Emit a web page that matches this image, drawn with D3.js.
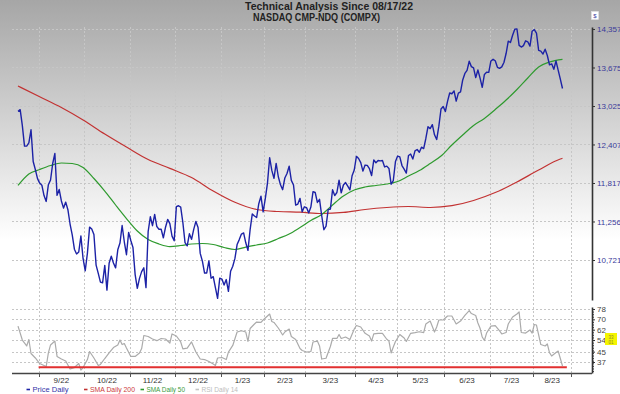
<!DOCTYPE html>
<html><head><meta charset="utf-8">
<script src="https://cdn.jsdelivr.net/npm/d3@7"></script>
<style>body{margin:0;background:#fff;} svg{display:block;font-family:Arial,"Liberation Sans",sans-serif;}</style>
</head><body><svg id="c" width="620" height="394"></svg>
<script>
// ---------------- DATA ----------------
const titleLines = ["Technical Analysis Since 08/17/22", "NASDAQ CMP-NDQ (COMPX)"];
const monthLabels = ["", "9/22", "10/22", "11/22", "12/22", "1/23", "2/23", "3/23", "4/23", "5/23", "6/23", "7/23", "8/23"];
const monthTradingDays = [11, 21, 21, 21, 21, 20, 19, 23, 19, 22, 21, 20, 23];
const priceTicks = [10721, 11256, 11817, 12407, 13025, 13675, 14357];
const rsiTicks = [37, 45, 54, 62, 70, 78];
const legendLabels = ["Price Daily", "SMA Daily 200", "SMA Daily 50", "RSI Daily 14"];

// daily close, one value per trading day from 08/17/22
const priceClose = [
 12938,12965,12705,12382,12381,12432,12639,12142,12018,11883,11816,
 11785,11631,11545,11792,11862,12112,12266,11634,11720,11552,11448,11535,11425,11220,11067,10868,10803,10830,11052,10738,10576,
 10815,11176,11149,11073,10652,10542,10426,10417,10649,10321,10676,10772,10681,10615,10860,10953,11199,10971,10793,11102,10988,
 10891,10525,10343,10475,10565,10616,10353,11114,11323,11196,11358,11184,11145,11146,11025,11174,11285,11226,11050,10984,11468,
 11482,11462,11240,10959,10914,11082,11005,11144,11257,11171,10811,10705,10546,10547,10709,10476,10498,10353,10213,10478,10466,
 10387,10459,10305,10569,10636,10743,10932,11001,11079,11095,10957,10852,11140,11364,11334,11313,11512,11622,11394,11585,
 11816,12201,12007,11887,12114,11911,11790,11718,11892,11960,12071,11856,11787,11492,11507,11590,11395,11467,11456,
 11379,11463,11689,11676,11530,11576,11338,11139,11189,11428,11434,11717,11631,11676,11860,11670,11787,11824,11769,11716,11926,12013,12222,
 12189,12126,11997,12088,12084,12032,11929,12166,12123,12158,12153,12157,12060,12072,12037,11799,11854,12142,12227,
 12213,12081,12025,11966,12235,12257,12180,12306,12329,12285,12365,12343,12501,12689,12658,12721,12560,12484,12698,12976,13017,12935,
 13101,13241,13229,13276,13105,13239,13259,13462,13573,13626,13783,13690,13667,13502,13631,13493,13336,13556,13592,13591,13788,
 13817,13792,13679,13661,13685,13761,13919,14139,14114,14245,14354,14358,14063,14033,14059,14145,14127,14050,14317,14346,
 14284,13973,13960,13909,13994,13884,13722,13738,13645,13788,13631,13475,13317
];

const sma200Day = [0,10,20,30,40,50,60,70,80,90,100,110,120,130,140,150,160,170,180,190,200,210,220,230,240,250,251];
const sma200 = [13359,13179,13001,12797,12572,12367,12173,12038,11899,11698,11532,11428,11399,11389,11370,11385,11428,11457,11471,11457,11483,11559,11676,11832,12013,12181,12192];

const sma50Day = [0,5,10,15,20,25,30,35,40,45,50,55,60,65,70,75,80,85,90,95,100,105,110,115,120,125,130,135,140,145,150,155,160,165,170,175,180,185,190,195,200,205,210,215,220,225,230,235,240,245,251];
const sma50 = [11780,11952,12021,12081,12120,12112,12051,11885,11698,11493,11298,11121,11002,10940,10905,10919,10940,10947,10933,10892,10864,10898,10926,10954,11016,11079,11171,11270,11356,11493,11624,11713,11757,11780,11802,11840,11922,12005,12112,12227,12398,12556,12708,12821,12968,13124,13300,13495,13684,13770,13817];

const rsiDay = [0,2,4,5,6,8,10,12,13,14,15,17,18,20,22,24,26,28,29,30,32,33,35,37,38,40,42,44,46,47,48,49,50,52,54,56,57,58,60,62,64,66,68,70,71,73,75,76,78,80,82,84,86,88,90,91,92,94,96,97,99,101,103,105,106,107,109,110,112,113,115,116,117,118,120,122,123,125,126,128,130,131,133,135,136,138,139,140,142,144,145,147,148,149,151,153,155,156,158,160,162,163,164,166,168,170,171,172,173,174,176,178,179,181,183,185,187,188,190,192,193,194,196,198,200,202,204,206,208,209,211,212,213,214,215,216,218,220,222,223,225,226,228,230,231,232,234,236,237,238,239,240,241,243,244,245,246,248,249,251];
const rsi14 = [64.8,54,49.4,54.4,43.6,40.1,35.8,34.3,33.5,44,50.2,53.2,41.3,39.3,37.8,31.6,32.7,35.8,30.8,32.7,38.9,45.1,40.1,34.3,35.1,39.7,44,48.2,50.2,54,50.5,51.3,47.8,41.3,41.3,44,47.4,57.5,56.7,54.8,53.5,55.2,54.8,51.7,58.7,57.1,52.5,47.1,47.8,52.5,44.7,39.3,38.9,37.4,35.5,34.3,40.1,40.5,38.9,44.7,49.8,60.2,61.2,60.2,52.9,62.9,66.4,67.9,67.6,69.5,72.6,74.1,68.3,67.6,63.3,57.9,60.2,62.5,56.7,54.4,47.4,45.9,44.7,45.1,52.5,53.2,49.4,39.3,39.9,49,55.2,55.2,58.3,55.2,56.3,54.4,62.5,65.2,64.1,59.2,57.1,53.2,58.7,59.2,59.2,54.6,53.2,44,48.6,52.9,58.3,55.6,52.9,59.2,59.7,60.4,59.7,66.4,68.7,60.2,64.1,69.5,69.5,72.6,72.6,66.4,68.7,73,76.8,74.5,73,67.2,63.1,56.3,53.6,59.4,64.8,65.2,61,58.7,59.8,66.4,71.8,74.1,75.7,59.8,59.4,61.8,59.4,66,65.6,57.9,50.5,49.4,51,44.3,41.6,44.3,45.5,33.9];

const rsiRefLevel = 33;
const rsiRefSpan = [9.5, 253];

// ---------------- LAYOUT / STYLE ----------------
const W = 620, H = 394;
const plotLeft = 12, plotRight = 592;
const priceTop = 27, priceBottom = 300, rsiTop = 307, rsiBottom = 373;
const timeEndPad = 4;   // trading days of empty space after the last bar
const colors = {price: "#1c22a6", sma200: "#c23232", sma50: "#2e9a2e", rsi: "#ababab", ref: "#e23030"};
const legendColors = [colors.price, colors.sma200, colors.sma50, "#c4c4c4"];
const legendTextColors = ["#3333a8", "#cc3b3b", "#3a9a3a", "#bdbdbd"];
const legendTextX = [32.5, 90, 146.5, 201.5];
const legendTextLen = [36, 45, 38.5, 36.5];

const svg = d3.select("#c");
const defs = svg.append("defs");
const grad = defs.append("linearGradient").attr("id", "bg").attr("x1", 0).attr("y1", 0).attr("x2", 0).attr("y2", 1);
grad.append("stop").attr("offset", "0%").attr("stop-color", "#a6a6a6");
grad.append("stop").attr("offset", "61%").attr("stop-color", "#ffffff");
grad.append("stop").attr("offset", "100%").attr("stop-color", "#ffffff");
svg.append("rect").attr("width", W).attr("height", H).attr("fill", "url(#bg)");

// scales
const lastIdx = priceClose.length - 1;
const x = d3.scaleLinear().domain([0, lastIdx]).range([18, 562.5]);
const yP0 = d3.scaleLog().domain([priceTicks[0], priceTicks[priceTicks.length - 1]]).range([260, 29]);
const yPrice = d3.scaleLog().domain([yP0.invert(priceBottom), yP0.invert(priceTop)]).range([priceBottom, priceTop]);
const yR0 = d3.scaleLinear().domain([rsiTicks[0], rsiTicks[rsiTicks.length - 1]]).range([362, 309]);
const yRsi = d3.scaleLinear().domain([yR0.invert(rsiBottom), yR0.invert(rsiTop)]).range([rsiBottom, rsiTop]);

// month boundaries (clamped to the end of the time area)
const starts = []; let acc = 0;
monthTradingDays.forEach(n => { starts.push(acc); acc += n; });
starts.push(acc);
const gridX = starts.slice(1).map(s => x(Math.min(s - 1.5, lastIdx + timeEndPad)));

// grid
const grid = svg.append("g").attr("stroke", "#c6c6c6").attr("stroke-width", 1).attr("stroke-dasharray", "2,2").attr("fill", "none");
priceTicks.forEach(t => grid.append("line").attr("x1", plotLeft).attr("x2", plotRight).attr("y1", Math.round(yPrice(t)) + 0.5).attr("y2", Math.round(yPrice(t)) + 0.5));
rsiTicks.forEach(t => grid.append("line").attr("x1", plotLeft).attr("x2", plotRight).attr("y1", Math.round(yRsi(t)) + 0.5).attr("y2", Math.round(yRsi(t)) + 0.5));
gridX.forEach(gx => grid.append("line").attr("x1", Math.round(gx) + 0.5).attr("x2", Math.round(gx) + 0.5).attr("y1", priceTop).attr("y2", rsiBottom));

// lines
const smaLine = (days) => d3.line().x((d, i) => x(days[i])).y(d => yPrice(d)).curve(d3.curveMonotoneX);
svg.append("path").datum(sma200).attr("d", smaLine(sma200Day)).attr("fill", "none").attr("stroke", colors.sma200).attr("stroke-width", 1.2);
svg.append("path").datum(sma50).attr("d", smaLine(sma50Day)).attr("fill", "none").attr("stroke", colors.sma50).attr("stroke-width", 1.2);
svg.append("path").datum(priceClose).attr("d", d3.line().x((d, i) => x(i)).y(d => yPrice(d)))
  .attr("fill", "none").attr("stroke", colors.price).attr("stroke-width", 1.4).attr("stroke-linejoin", "round");

svg.append("path").datum(rsi14).attr("d", d3.line().x((d, i) => x(rsiDay[i])).y(d => yRsi(d)))
  .attr("fill", "none").attr("stroke", colors.rsi).attr("stroke-width", 1.2).attr("stroke-linejoin", "round");
svg.append("line").attr("x1", x(rsiRefSpan[0])).attr("x2", x(rsiRefSpan[1]))
  .attr("y1", yRsi(rsiRefLevel)).attr("y2", yRsi(rsiRefLevel)).attr("stroke", colors.ref).attr("stroke-width", 2);

// axes
const pAxis = svg.append("g").attr("transform", `translate(${plotRight},0)`)
  .call(d3.axisRight(yPrice).tickValues(priceTicks).tickFormat(d3.format(",")).tickSize(3).tickSizeOuter(0).tickPadding(2));
pAxis.select(".domain").attr("stroke", "#333").attr("stroke-width", 1.6);
pAxis.selectAll(".tick line").attr("stroke", "#333");
pAxis.selectAll(".tick text").attr("fill", "#3a3a9a").attr("font-size", "8px").attr("font-family", "Arial, 'Liberation Sans', sans-serif");

const minorRsi = d3.range(30, 80, 2).filter(v => !rsiTicks.includes(v));
const rMinor = svg.append("g").attr("transform", `translate(${plotRight},0)`)
  .call(d3.axisRight(yRsi).tickValues(minorRsi).tickFormat("").tickSize(2).tickSizeOuter(0));
rMinor.select(".domain").remove();
rMinor.selectAll(".tick line").attr("stroke", "#444");
const rAxis = svg.append("g").attr("transform", `translate(${plotRight},0)`)
  .call(d3.axisRight(yRsi).tickValues(rsiTicks).tickSize(3).tickSizeOuter(0).tickPadding(2));
rAxis.select(".domain").attr("stroke", "#333").attr("stroke-width", 1.6);
rAxis.selectAll(".tick line").attr("stroke", "#333");
rAxis.selectAll(".tick text").attr("fill", "#444").attr("font-size", "8px").attr("font-family", "Arial, 'Liberation Sans', sans-serif");

// x axis
svg.append("line").attr("x1", plotLeft).attr("x2", plotRight).attr("y1", rsiBottom + 0.5).attr("y2", rsiBottom + 0.5)
  .attr("stroke", "#444").attr("stroke-width", 1.6);
gridX.forEach(gx => svg.append("line").attr("x1", Math.round(gx) + 0.5).attr("x2", Math.round(gx) + 0.5)
  .attr("y1", rsiBottom).attr("y2", rsiBottom + 4).attr("stroke", "#555"));
monthLabels.forEach((lab, m) => {
  if (!lab) return;
  const cx = (gridX[m - 1] + gridX[m]) / 2;
  svg.append("text").attr("x", cx).attr("y", 382.5).attr("text-anchor", "middle")
    .attr("font-size", "8px").attr("fill", "#333").text(lab);
});

// legend
legendLabels.forEach((lab, i) => {
  svg.append("line").attr("x1", legendTextX[i] - 6).attr("x2", legendTextX[i] - 2.5).attr("y1", 389.5).attr("y2", 389.5)
    .attr("stroke", legendColors[i]).attr("stroke-width", 1.6);
  svg.append("text").attr("x", legendTextX[i]).attr("y", 392.3).attr("font-size", "7.8px")
    .attr("fill", legendTextColors[i]).attr("textLength", legendTextLen[i]).attr("lengthAdjust", "spacingAndGlyphs").text(lab);
});

// title
svg.append("text").attr("x", 245).attr("y", 9.5).attr("font-size", "10.5px").attr("font-weight", "bold").attr("fill", "#222")
  .attr("textLength", 168).attr("lengthAdjust", "spacingAndGlyphs").text(titleLines[0]);
svg.append("text").attr("x", 253).attr("y", 20.5).attr("font-size", "10.5px").attr("font-weight", "bold").attr("fill", "#222")
  .attr("textLength", 127).attr("lengthAdjust", "spacingAndGlyphs").text(titleLines[1]);

// "$" marker
svg.append("rect").attr("x", 591.5).attr("y", 11.5).attr("width", 7).attr("height", 8).attr("fill", "#fff").attr("stroke", "#e6e6e6").attr("stroke-width", 0.5);
svg.append("text").attr("x", 595).attr("y", 18).attr("text-anchor", "middle").attr("font-size", "6px").attr("fill", "#3a3aa0").text("$");

// yellow value flag on RSI axis
svg.append("rect").attr("x", 605).attr("y", 333).attr("width", 12).attr("height", 12).attr("fill", "#f4f400");
svg.append("text").attr("x", 611).attr("y", 338.5).attr("text-anchor", "middle").attr("font-size", "4.5px").attr("fill", "#8a8a30").text("33");
svg.append("text").attr("x", 611).attr("y", 343.5).attr("text-anchor", "middle").attr("font-size", "4.5px").attr("fill", "#8a8a30").text("01");
</script></body></html>
